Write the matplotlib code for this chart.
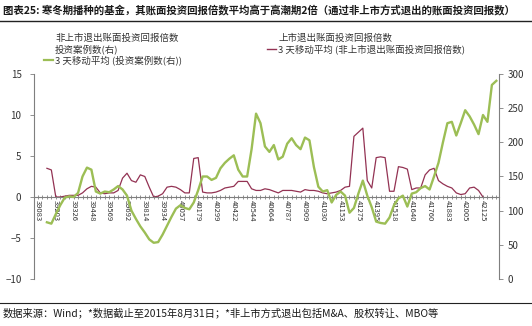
import numpy as np
import matplotlib
matplotlib.use("Agg")
import matplotlib.pyplot as plt
from matplotlib.lines import Line2D

plt.rcParams['font.family'] = ['Noto Sans CJK SC', 'DejaVu Sans']

# =========================
# DATA (monthly, Jan 2007 - Aug 2015)
# =========================
nan = np.nan
months = np.arange(104)
tick_labels = ["39083", "39203", "39326", "39448", "39569", "39692", "39814",
               "39934", "40057", "40179", "40299", "40422", "40544", "40664",
               "40787", "40909", "41030", "41153", "41275", "41395", "41518",
               "41640", "41760", "41883", "42005", "42125"]

# 3-month moving average of non-listed exit book return multiple (left axis)
ma_return = [nan, nan, 3.5, 3.3, 0.0, 0.0, 0.1, 0.2, 0.2, 0.2,
             0.5, 1.0, 1.3, 1.2, 0.5, 0.4, 0.5, 0.5, 0.8, 2.3,
             2.9, 2.0, 1.8, 2.7, 2.5, 1.2, 0.0, 0.1, 0.4, 1.2,
             1.3, 1.2, 0.9, 0.5, 0.5, 4.7, 4.8, 0.6, 0.5, 0.5,
             0.6, 0.8, 1.1, 1.2, 1.3, 1.9, 1.9, 1.9, 1.0, 0.8,
             0.8, 1.0, 0.9, 0.7, 0.5, 0.8, 0.8, 0.8, 0.7, 0.6,
             0.9, 0.8, 0.8, 0.7, 0.5, 0.4, 0.5, 0.6, 0.8, 1.2,
             1.3, 7.4, 7.9, 8.4, 2.0, 1.1, 4.8, 4.9, 4.8, 0.7,
             0.7, 3.7, 3.6, 3.4, 0.9, 1.1, 1.1, 2.7, 3.3, 3.5,
             2.0, 1.6, 1.3, 1.1, 0.5, 0.3, 0.4, 1.1, 1.2, 0.8,
             0.0, nan, nan, nan]

# 3-month moving average of investment cases (right axis)
ma_cases = [nan, nan, 83, 81, 95, 108, 119, 121, 120, 126,
            150, 163, 160, 128, 125, 128, 127, 131, 136, 131,
            122, 100, 88, 77, 68, 58, 53, 54, 65, 78,
            91, 103, 108, 104, 102, 112, 130, 150, 150, 145,
            148, 162, 170, 176, 181, 160, 150, 150, 190, 242,
            228, 194, 186, 196, 175, 179, 198, 206, 196, 190,
            207, 203, 164, 135, 128, 130, 112, 123, 128, 122,
            97, 104, 125, 144, 122, 105, 84, 82, 81, 90,
            108, 118, 122, 106, 125, 127, 133, 136, 131, 150,
            170, 200, 228, 230, 210, 228, 247, 238, 226, 212,
            240, 230, 284, 290]

RED = "#933253"
GREEN = "#9cbe55"
GRAY = "#7f7f7f"
TXT = "#333333"

fig = plt.figure(figsize=(5.32, 3.26), dpi=100)
ax = fig.add_axes([34/532, 1-279/326, (499-34)/532, (279-74)/326])
ax2 = ax.twinx()

ax.plot(months, ma_return, color=RED, lw=0.9)
ax2.plot(months, ma_cases, color=GREEN, lw=1.7)

ax.set_xlim(-0.9, 103.6)
ax.set_ylim(-10, 15)
ax2.set_ylim(0, 300)
ax.set_yticks([-10, -5, 0, 5, 10, 15])
ax2.set_yticks([0, 50, 100, 150, 200, 250, 300])

for s in ["top", "right"]:
    ax.spines[s].set_visible(False)
for s in ["top", "left", "bottom"]:
    ax2.spines[s].set_visible(False)
ax.spines["bottom"].set_position(("data", 0))
ax.spines["left"].set_color(GRAY)
ax.spines["bottom"].set_color(GRAY)
ax2.spines["right"].set_color(GRAY)
for s in ax.spines.values():
    s.set_linewidth(0.8)
ax2.spines["right"].set_linewidth(0.8)

ax.set_xticks(months[::4])
ax.set_xticklabels(tick_labels, rotation=270, fontsize=5.5, color=TXT)
ax.set_xticks(months, minor=True)
ax.tick_params(axis="x", which="both", direction="inout", length=3, width=0.6,
               color=GRAY, pad=1)
ax.tick_params(axis="y", direction="out", length=3, width=0.6, color=GRAY,
               labelsize=7, labelcolor=TXT, pad=6)
ax2.tick_params(axis="y", direction="out", length=3, width=0.6, color=GRAY,
                labelsize=7, labelcolor=TXT, pad=3)

# legend (manual, like the original layout)
fs = 6.8
fig.text(55/532, 1-38/326, "非上市退出账面投资回报倍数", fontsize=fs, color=TXT, va="center")
fig.text(55/532, 1-49/326, "投资案例数(右)", fontsize=fs, color=TXT, va="center")
fig.text(55/532, 1-60/326, "3 天移动平均 (投资案例数(右))", fontsize=fs, color=TXT, va="center")
fig.add_artist(Line2D([44/532, 53/532], [1-60/326, 1-60/326], color=GREEN, lw=1.6))
fig.text(278/532, 1-38/326, "上市退出账面投资回报倍数", fontsize=fs, color=TXT, va="center")
fig.text(278/532, 1-49/326, "3 天移动平均 (非上市退出账面投资回报倍数)", fontsize=fs, color=TXT, va="center")
fig.add_artist(Line2D([267/532, 276/532], [1-49/326, 1-49/326], color=RED, lw=1.0))

# title and footer
fig.text(3/532, 1-10/326,
         "图表25: 寒冬期播种的基金，其账面投资回报倍数平均高于高潮期2倍（通过非上市方式退出的账面投资回报数）",
         fontsize=7.5, fontweight="bold", color="#1a1a1a", va="center")
fig.add_artist(Line2D([0, 1], [1-21/326, 1-21/326], color="#222222", lw=1.0))
fig.add_artist(Line2D([0, 1], [1-303/326, 1-303/326], color="#222222", lw=0.8))
fig.text(3/532, 1-313/326,
         "数据来源：Wind；*数据截止至2015年8月31日；*非上市方式退出包括M&A、股权转让、MBO等",
         fontsize=7.4, color="#1a1a1a", va="center")

fig.savefig("out.png", dpi=100)
